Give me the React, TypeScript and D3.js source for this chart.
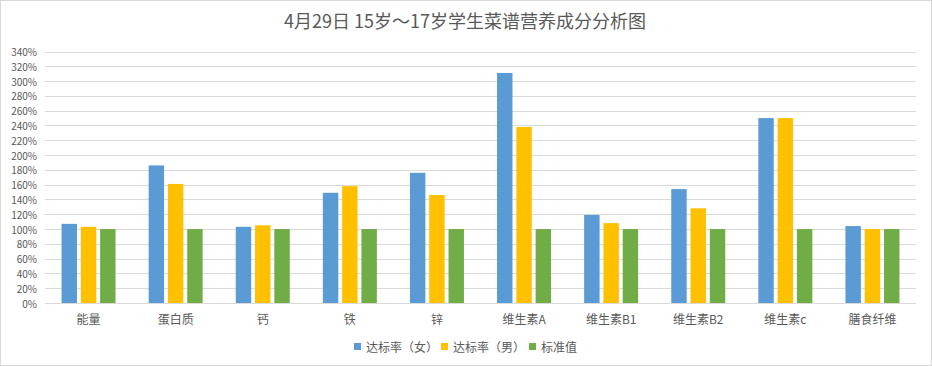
import React from "react";
import * as d3 from "d3";

const categories = ["能量", "蛋白质", "钙", "铁", "锌", "维生素A", "维生素B1", "维生素B2", "维生素c", "膳食纤维"];
const seriesNames = ["达标率（女）", "达标率（男）", "标准值"];
const female = [107, 186, 103, 149, 176, 311, 119, 154, 250, 104];
const male = [103, 161, 105, 158, 146, 238, 108, 128, 250, 100];
const standard = [100, 100, 100, 100, 100, 100, 100, 100, 100, 100];
const yTicks = d3.range(0, 341, 20);

const COLORS = ["#5B9BD5", "#FFC000", "#70AD47"];
const FONT = "'Noto Sans CJK SC', 'Noto Sans', sans-serif";

const App: React.FC = () => {
    const width = 932;
    const height = 366;
    const margin = { top: 51.5, right: 16, bottom: 63, left: 45 };

    const x0 = d3
        .scaleBand<string>()
        .domain(categories)
        .range([margin.left, width - margin.right])
        .paddingInner(0.38)
        .paddingOuter(0.19);

    const x1 = d3
        .scaleBand<string>()
        .domain(seriesNames)
        .range([0, x0.bandwidth()])
        .paddingInner(0.2);

    const y = d3
        .scaleLinear()
        .domain([0, 340])
        .range([height - margin.bottom, margin.top]);

    const values = [female, male, standard];

    return (
        <svg
            width={width}
            height={height}
            style={{ position: "absolute", left: 0, top: 0, fontFamily: FONT }}
        >
            <rect x={0} y={0} width={width} height={height} fill="#fff" />
            <rect x={0.5} y={0.5} width={width - 1} height={height - 1} fill="none" stroke="#d9d9d9" />

            {/* title */}
            <text x={465} y={20} textAnchor="middle" dominantBaseline="central" fontSize={18} fill="#595959">
                4月29日 15岁～17岁学生菜谱营养成分分析图
            </text>

            {/* grid + y labels */}
            {yTicks.map(t => (
                <g key={t}>
                    <line
                        x1={margin.left}
                        x2={width - margin.right}
                        y1={Math.round(y(t)) + 0.5}
                        y2={Math.round(y(t)) + 0.5}
                        stroke="#d9d9d9"
                        strokeWidth={1}
                    />
                    <text
                        x={37}
                        y={y(t)}
                        textAnchor="end"
                        dominantBaseline="central"
                        fontSize={10}
                        fill="#595959"
                    >
                        {t}%
                    </text>
                </g>
            ))}

            {/* bars */}
            {categories.map((c, i) => (
                <g key={c} transform={`translate(${x0(c)},0)`}>
                    {seriesNames.map((s, j) => (
                        <rect
                            key={s}
                            x={x1(s)}
                            y={y(values[j][i])}
                            width={x1.bandwidth()}
                            height={y(0) - y(values[j][i])}
                            fill={COLORS[j]}
                        />
                    ))}
                </g>
            ))}

            {/* x labels */}
            {categories.map(c => (
                <text
                    key={c}
                    x={(x0(c) ?? 0) + x0.bandwidth() / 2}
                    y={318}
                    textAnchor="middle"
                    dominantBaseline="central"
                    fontSize={12}
                    fill="#595959"
                >
                    {c}
                </text>
            ))}

            {/* legend */}
            {seriesNames.map((s, j) => {
                const lx = [354, 441, 529][j];
                return (
                    <g key={s}>
                        <rect x={lx} y={343} width={7} height={7} fill={COLORS[j]} />
                        <text x={lx + 12} y={346.5} dominantBaseline="central" fontSize={12} fill="#595959">
                            {s}
                        </text>
                    </g>
                );
            })}
        </svg>
    );
};

export default App;
